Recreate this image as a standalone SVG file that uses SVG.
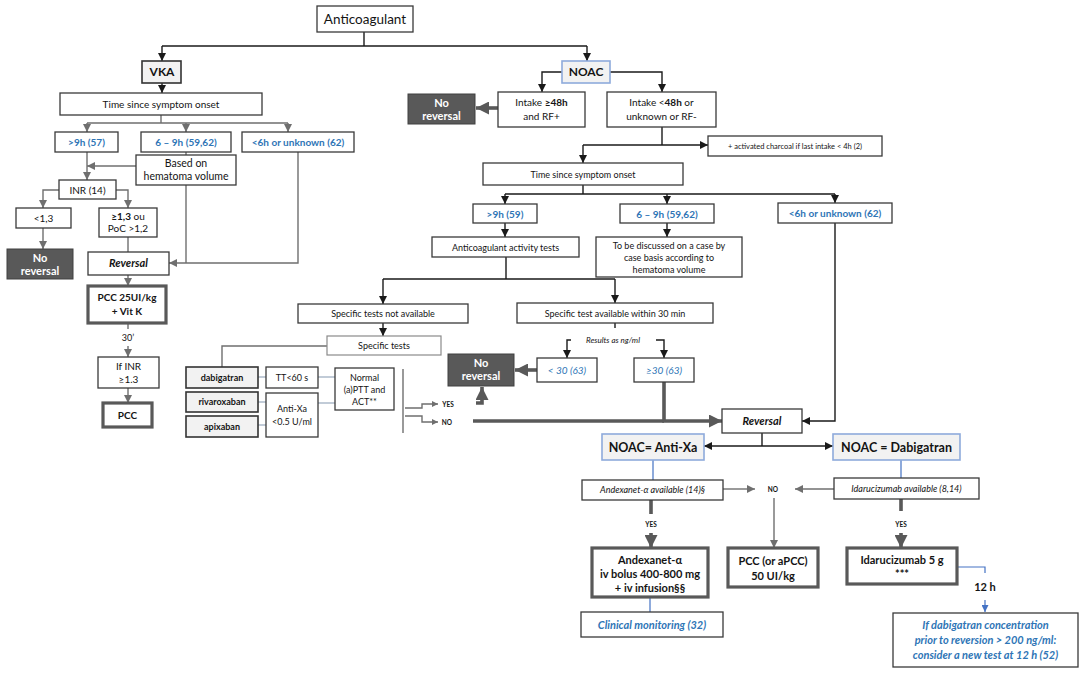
<svg xmlns="http://www.w3.org/2000/svg" width="1084" height="674" viewBox="0 0 1084 674">
<style>
.b{fill:#fff;stroke:#3a3a3a;stroke-width:1.3}
.bl{fill:#fff;stroke:#8a8a8a;stroke-width:1.2}
.g{fill:#f2f2f2;stroke:#333;stroke-width:1.6}
.nb{fill:#f2f2f2;stroke:#8eaadb;stroke-width:1.6}
.dk{fill:#595959;stroke:#404040;stroke-width:1}
.tk{fill:#fff;stroke:#595959;stroke-width:3.2}
text{font-family:Lato,"Liberation Sans",sans-serif;fill:#141414;text-anchor:middle}
.t{font-size:10px}
.s{font-size:9px}
.xs{font-size:7.5px}
.bd{font-weight:bold}
.it{font-style:italic}
.bu{fill:#2e75b6}
.w{fill:#fff;font-weight:bold;font-size:11px}
.k{stroke:#1a1a1a;stroke-width:1.4;fill:none}
.gr{stroke:#6f6f6f;stroke-width:1.4;fill:none}
.th{stroke:#595959;stroke-width:3.6;fill:none}
.bln{stroke:#4472c4;stroke-width:1.2;fill:none}
.sb{stroke:#8497b0;stroke-width:1.2;fill:none}
</style>
<defs>
<marker id="ak" viewBox="0 0 10 10" refX="10" refY="5" markerWidth="8" markerHeight="8" markerUnits="userSpaceOnUse" orient="auto"><path d="M0,0L10,5L0,10z" fill="#1a1a1a"/></marker>
<marker id="ag" viewBox="0 0 10 10" refX="10" refY="5" markerWidth="8" markerHeight="8" markerUnits="userSpaceOnUse" orient="auto"><path d="M0,0L10,5L0,10z" fill="#6f6f6f"/></marker>
<marker id="as" viewBox="0 0 10 10" refX="10" refY="5" markerWidth="6" markerHeight="6" markerUnits="userSpaceOnUse" orient="auto"><path d="M0,0L10,5L0,10z" fill="#6f6f6f"/></marker>
<marker id="at" viewBox="0 0 10 10" refX="10" refY="5" markerWidth="13" markerHeight="13" markerUnits="userSpaceOnUse" orient="auto"><path d="M0,0L10,5L0,10z" fill="#595959"/></marker>
<marker id="ab" viewBox="0 0 10 10" refX="10" refY="5" markerWidth="7" markerHeight="7" markerUnits="userSpaceOnUse" orient="auto"><path d="M0,0L10,5L0,10z" fill="#4472c4"/></marker>
</defs>
<rect width="1084" height="674" fill="#fff"/>

<g id="connectors">
<path class="k" d="M364,32V46"/>
<path class="k" d="M162,46H587"/>
<path class="k" d="M162,46V61" marker-end="url(#ak)"/>
<path class="k" d="M587,46V61" marker-end="url(#ak)"/>
<path class="k" d="M162,83V93" marker-end="url(#ak)"/>
<path class="gr" d="M161,115V123M87,123H288"/>
<path class="gr" d="M87,123V132" marker-end="url(#ag)"/>
<path class="gr" d="M186,123V132" marker-end="url(#ag)"/>
<path class="gr" d="M288,123V132" marker-end="url(#ag)"/>
<path class="gr" d="M87,152V180" marker-end="url(#ag)"/>
<path class="gr" d="M136,166H87" marker-end="url(#ag)"/>
<path class="gr" d="M186,152V155"/>
<path class="gr" d="M59,190H43V208" marker-end="url(#ag)"/>
<path class="gr" d="M116,190H128V208" marker-end="url(#ag)"/>
<path class="gr" d="M43,228V249" marker-end="url(#ag)"/>
<path class="gr" d="M128,237V252"/>
<path class="gr" d="M186,185V263"/>
<path class="gr" d="M298,152V263H169" marker-end="url(#ag)"/>
<path class="gr" d="M128,275V286" marker-end="url(#ag)"/>
<path class="gr" d="M128,323V329"/>
<path class="gr" d="M128,346V357" marker-end="url(#ag)"/>
<path class="gr" d="M128,388V403" marker-end="url(#ag)"/>

<path class="k" d="M562,72H542V92" marker-end="url(#ak)"/>
<path class="k" d="M610,72H662V92" marker-end="url(#ak)"/>
<path class="th" d="M498,108H476" marker-end="url(#at)"/>
<path class="k" d="M662,127V145"/>
<path class="k" d="M583,145H708" marker-end="url(#ak)"/>
<path class="k" d="M583,145V163" marker-end="url(#ak)"/>
<path class="k" d="M583,185V194M505,194H835"/>
<path class="k" d="M505,194V204" marker-end="url(#ak)"/>
<path class="k" d="M667,194V204" marker-end="url(#ak)"/>
<path class="k" d="M835,194V203" marker-end="url(#ak)"/>
<path class="k" d="M505,223V237" marker-end="url(#ak)"/>
<path class="k" d="M667,223V237" marker-end="url(#ak)"/>
<path class="k" d="M506,257V279M383,279H615"/>
<path class="k" d="M383,279V304" marker-end="url(#ak)"/>
<path class="k" d="M615,279V303" marker-end="url(#ak)"/>
<path class="k" d="M383,323V336" marker-end="url(#ak)"/>
<path class="gr" d="M327,346H222V367"/>
<path class="sb" d="M258,377H266M258,402H266M258,425H266M318,377H335M318,403H335"/>
<path class="gr" d="M403,369V433"/>
<path class="gr" d="M405,408H422V404H438" marker-end="url(#as)"/>
<path class="gr" d="M405,416H422V422H438" marker-end="url(#as)"/>
<path class="th" d="M476,403H482V387" marker-end="url(#at)"/>
<path class="th" d="M473,421H664"/>
<path class="th" d="M664,382V421H722" marker-end="url(#at)"/>
<path class="k" d="M615,323V328"/>
<path class="k" d="M571,340H567V358" marker-end="url(#ak)"/>
<path class="k" d="M656,340H664V358" marker-end="url(#ak)"/>
<path class="th" d="M537,370H515" marker-end="url(#at)"/>
<path class="k" d="M835,223V421H802" marker-end="url(#ak)"/>
<path class="k" d="M762,433V446"/>
<path class="k" d="M762,446H704" marker-end="url(#ak)"/>
<path class="k" d="M762,446H833" marker-end="url(#ak)"/>
<path class="bln" d="M653,460V480M901,460V478"/>
<path class="gr" d="M723,489H755" marker-end="url(#ag)"/>
<path class="gr" d="M834,489H795" marker-end="url(#ag)"/>
<path class="gr" d="M774,498V548" marker-end="url(#ag)"/>
<path class="th" d="M651,500V514M901,499V511"/>
<path class="th" d="M651,533V548" marker-end="url(#at)"/>
<path class="th" d="M901,533V548" marker-end="url(#at)"/>
<path class="bln" d="M650,597V612"/>
<path class="bln" d="M957,567H985V573"/>
<path class="bln" d="M985,600V612" marker-end="url(#ab)"/>
</g>

<g id="n-anticoagulant"><rect class="b" x="317" y="6" width="96" height="26"/><text x="365" y="24" style="font-size:13.5px">Anticoagulant</text></g>

<g id="n-vka"><rect class="g" x="142" y="61" width="39" height="22"/><text class="bd" x="162" y="76" style="font-size:12px">VKA</text></g>
<g id="n-time-vka"><rect class="b" x="60" y="93" width="202" height="22"/><text class="t" x="161" y="108">Time since symptom onset</text></g>
<g id="n-9h-vka"><rect class="b" x="55" y="132" width="63" height="20"/><text class="t bd bu" x="86.5" y="146">&gt;9h (57)</text></g>
<g id="n-69h-vka"><rect class="b" x="141" y="132" width="90" height="20"/><text class="t bd bu" x="186" y="146">6 – 9h (59,62)</text></g>
<g id="n-6h-vka"><rect class="b" x="242" y="132" width="112" height="20"/><text class="t bd bu" x="298" y="146">&lt;6h or unknown (62)</text></g>
<g id="n-hematoma"><rect class="b" x="136" y="155" width="100" height="30"/><text class="t" x="186" y="167" style="font-size:10.5px">Based on</text><text class="t" x="186" y="180" style="font-size:10.5px">hematoma volume</text></g>
<g id="n-inr"><rect class="b" x="59" y="180" width="57" height="19"/><text class="t" x="87.5" y="194">INR (14)</text></g>
<g id="n-lt13"><rect class="b" x="16" y="208" width="55" height="20"/><text class="t" x="43.5" y="222">&lt;1,3</text></g>
<g id="n-ge13"><rect class="b" x="99" y="208" width="58" height="29"/><text class="t" x="128" y="220"><tspan class="bd">≥1,3</tspan> ou</text><text class="t" x="128" y="232">PoC &gt;1,2</text></g>
<g id="n-noreversal-1"><rect class="dk" x="7" y="249" width="66" height="30"/><text class="w" x="40" y="262">No</text><text class="w" x="40" y="275">reversal</text></g>
<g id="n-reversal-vka"><rect class="b" x="88" y="252" width="81" height="23"/><text class="t bd it" x="128.5" y="267" style="font-size:11px">Reversal</text></g>
<g id="n-pcc25"><rect class="tk" x="88" y="286" width="78" height="37"/><text class="t bd" x="127" y="301">PCC 25UI/kg</text><text class="t bd" x="127" y="315">+ Vit K</text></g>
<g id="n-30"><text class="s" x="128" y="341">30’</text></g>
<g id="n-ifinr"><rect class="b" x="98" y="357" width="61" height="31"/><text class="t" x="128.5" y="370">If INR</text><text class="t" x="128.5" y="383">≥1.3</text></g>
<g id="n-pcc"><rect class="tk" x="103" y="403" width="49" height="24"/><text class="t bd" x="127.5" y="419">PCC</text></g>

<g id="n-noac"><rect class="nb" x="562" y="61" width="48" height="22"/><text class="bd" x="586" y="76" style="font-size:12px">NOAC</text></g>
<g id="n-noreversal-2"><rect class="dk" x="408" y="94" width="67" height="30"/><text class="w" x="441.5" y="107">No</text><text class="w" x="441.5" y="120">reversal</text></g>
<g id="n-intake48"><rect class="b" x="498" y="92" width="87" height="35"/><text class="t" x="541.5" y="106">Intake <tspan class="bd">≥48h</tspan></text><text class="t" x="541.5" y="120">and RF+</text></g>
<g id="n-intakelt48"><rect class="b" x="607" y="92" width="109" height="35"/><text class="t" x="661.5" y="106">Intake &lt;<tspan class="bd">48h</tspan> or</text><text class="t" x="661.5" y="120">unknown or RF-</text></g>
<g id="n-charcoal"><rect class="b" x="708" y="136" width="174" height="20"/><text class="xs" x="795" y="149">+ activated charcoal if last intake &lt; 4h (2)</text></g>
<g id="n-time-noac"><rect class="b" x="483" y="163" width="200" height="22"/><text class="s" x="583" y="178">Time since symptom onset</text></g>
<g id="n-9h-noac"><rect class="b" x="473" y="204" width="64" height="19"/><text class="t bd bu" x="505" y="218">&gt;9h (59)</text></g>
<g id="n-69h-noac"><rect class="b" x="620" y="204" width="94" height="19"/><text class="t bd bu" x="667" y="218">6 – 9h (59,62)</text></g>
<g id="n-6h-noac"><rect class="b" x="778" y="203" width="114" height="20"/><text class="t bd bu" x="835" y="217">&lt;6h or unknown (62)</text></g>
<g id="n-activity"><rect class="b" x="432" y="237" width="147" height="20"/><text class="s" x="505.5" y="251">Anticoagulant activity tests</text></g>
<g id="n-discussed"><rect class="b" x="596" y="237" width="146" height="40"/><text class="s" x="669" y="249">To be discussed on a case by</text><text class="s" x="669" y="261">case basis according to</text><text class="s" x="669" y="273">hematoma volume</text></g>
<g id="n-notavail"><rect class="b" x="298" y="304" width="170" height="19"/><text class="s" x="383" y="317">Specific tests not available</text></g>
<g id="n-avail30"><rect class="b" x="517" y="303" width="196" height="20"/><text class="s" x="615" y="317">Specific test available within 30 min</text></g>
<g id="n-spectests"><rect class="bl" x="327" y="336" width="114" height="19"/><text class="s" x="384" y="349">Specific tests</text></g>
<g id="n-dabigatran"><rect class="g" x="186" y="367" width="72" height="21"/><text class="s bd" x="222" y="381">dabigatran</text></g>
<g id="n-rivaroxaban"><rect class="g" x="186" y="392" width="72" height="20"/><text class="s bd" x="222" y="405">rivaroxaban</text></g>
<g id="n-apixaban"><rect class="g" x="186" y="416" width="72" height="21"/><text class="s bd" x="222" y="430">apixaban</text></g>
<g id="n-tt"><rect class="b" x="266" y="367" width="52" height="21"/><text class="s" x="292" y="381">TT&lt;60 s</text></g>
<g id="n-antixa"><rect class="b" x="266" y="393" width="52" height="44"/><text class="s" x="292" y="412">Anti-Xa</text><text class="s" x="292" y="425">&lt;0.5 U/ml</text></g>
<g id="n-normal"><rect class="b" x="335" y="368" width="59" height="42"/><text class="s" x="364.5" y="381">Normal</text><text class="s" x="364.5" y="393">(a)PTT and</text><text class="s" x="364.5" y="405">ACT**</text></g>
<g id="n-yes-no"><text class="bd" x="448" y="407" style="font-size:6.5px">YES</text><text class="bd" x="447" y="425" style="font-size:6.5px">NO</text></g>
<g id="n-noreversal-3"><rect class="dk" x="448" y="354" width="66" height="32"/><text class="w" x="481" y="367">No</text><text class="w" x="481" y="380">reversal</text></g>
<g id="n-results"><text class="it" x="613" y="343" style="font-size:8px">Results as ng/ml</text></g>
<g id="n-lt30"><rect class="b" x="537" y="358" width="60" height="24"/><text class="t it bu" x="567" y="374">&lt; 30 (63)</text></g>
<g id="n-ge30"><rect class="b" x="634" y="358" width="60" height="24"/><text class="t it bu" x="664" y="374">≥30 (63)</text></g>
<g id="n-reversal-noac"><rect class="b" x="722" y="409" width="80" height="24"/><text class="bd it" x="762" y="425" style="font-size:11px">Reversal</text></g>
<g id="n-antixa-noac"><rect class="nb" x="602" y="434" width="102" height="26"/><text class="bd" x="653" y="452" style="font-size:12.5px">NOAC=  Anti-Xa</text></g>
<g id="n-dabi-noac"><rect class="nb" x="833" y="434" width="127" height="26"/><text class="bd" x="896.5" y="452" style="font-size:12.5px">NOAC = Dabigatran</text></g>
<g id="n-andex-avail"><rect class="b" x="582" y="480" width="141" height="20"/><text class="s it" x="652.5" y="493">Andexanet-α available (14)§</text></g>
<g id="n-idaru-avail"><rect class="b" x="834" y="478" width="145" height="21"/><text class="s it" x="906.5" y="492">Idarucizumab available (8,14)</text></g>
<g id="n-no"><text class="bd" x="773" y="492" style="font-size:6.5px">NO</text></g>
<g id="n-yes"><text class="bd" x="651" y="527" style="font-size:6.5px">YES</text><text class="bd" x="901" y="527" style="font-size:6.5px">YES</text></g>
<g id="n-andexanet"><rect class="tk" x="592" y="548" width="116" height="49"/><text class="bd" x="650" y="564" style="font-size:11px">Andexanet-α</text><text class="bd" x="650" y="578" style="font-size:11px">iv bolus  400-800 mg</text><text class="bd" x="650" y="592" style="font-size:11px">+ iv infusion§§</text></g>
<g id="n-pcc50"><rect class="tk" x="728" y="548" width="90" height="39"/><text class="bd" x="773" y="565" style="font-size:11px">PCC  (or aPCC)</text><text class="bd" x="773" y="580" style="font-size:11px">50 UI/kg</text></g>
<g id="n-idaru5"><rect class="tk" x="847" y="548" width="110" height="36"/><text class="bd" x="902" y="564" style="font-size:11px">Idarucizumab  5 g</text><text class="bd" x="902" y="578" style="font-size:11px">***</text></g>
<g id="n-clinical"><rect class="b" x="581" y="612" width="142" height="25"/><text class="bd it bu" x="652" y="629" style="font-size:11px">Clinical  monitoring (32)</text></g>
<g id="n-12h"><text class="bd" x="985" y="591" style="font-size:11px">12 h</text></g>
<g id="n-ifdabi"><rect class="b" x="893" y="613" width="185" height="54"/><text class="bd it bu" x="985.5" y="629" style="font-size:11px">If dabigatran concentration</text><text class="bd it bu" x="985.5" y="644" style="font-size:11px">prior to reversion  &gt; 200 ng/ml:</text><text class="bd it bu" x="985.5" y="659" style="font-size:11px">consider  a new test at 12 h (52)</text></g>
</svg>
